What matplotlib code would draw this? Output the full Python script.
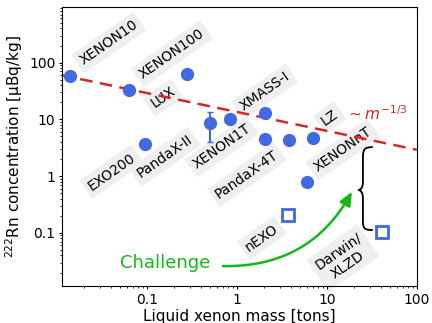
import numpy as np
import matplotlib
matplotlib.use("Agg")
import matplotlib.pyplot as plt
from matplotlib.path import Path
from matplotlib.patches import PathPatch
from matplotlib.ticker import FuncFormatter

# measured experiments (filled circles)
exp_names = ["XENON10", "XENON100", "LUX", "EXO200", "PandaX-II", "XMASS-I",
             "XENON1T", "PandaX-4T", "LZ-a", "LZ", "XENONnT"]
exp_mass = [0.014, 0.063, 0.28, 0.096, 0.5, 0.84, 2.05, 2.05, 3.8, 7.0, 6.0]
exp_rn = [59, 33, 64, 3.7, 8.7, 10.0, 13.1, 4.6, 4.4, 4.75, 0.80]
exp_err_lo = [0, 0, 0, 0, 4.7, 0, 0, 0, 0, 0, 0]
exp_err_hi = [0, 0, 0, 0, 5.0, 0, 0, 0, 0, 0, 0]

# future experiments (open squares)
fut_names = ["nEXO", "Darwin/XLZD"]
fut_mass = [3.7, 41]
fut_rn = [0.21, 0.105]

# scaling line  ~ m^-1/3
line_mass = [0.011, 100]
line_norm = 13.5
line_exp = -1.0 / 3.0

# label texts and positions (data coords)
label_texts = ["XENON10", "XENON100", "LUX", "EXO200", "PandaX-II", "XENON1T",
               "XMASS-I", "LZ", "PandaX-4T", "XENONnT", "nEXO", "Darwin/\nXLZD"]
label_x = [0.0378, 0.19, 0.151, 0.0408, 0.158, 0.68, 2.05, 10.8, 1.29, 15.1, 1.9, 15.1]
label_y = [225, 144, 24.2, 1.2, 2.2, 3.3, 30.8, 10.7, 1.06, 2.93, 0.082, 0.036]

blue = "#4169e1"
red = "#d62728"
green = "#14b814"

fig = plt.figure(figsize=(4.32, 3.23), dpi=100)
ax = fig.add_axes([0.1435, 0.1146, 0.8215, 0.8634])
ax.set_xscale("log")
ax.set_yscale("log")

lm = np.array(line_mass)
ax.plot(lm, line_norm * lm ** line_exp, ls=(0, (5, 3)), color=red, lw=1.8, zorder=2)

ax.errorbar(exp_mass, exp_rn, yerr=[exp_err_lo, exp_err_hi], fmt="o", ms=8.5,
            color=blue, ecolor=blue, elinewidth=1.5, capsize=2.5, zorder=3)
ax.plot(fut_mass, fut_rn, "s", ms=8, mfc="white", mec=blue, mew=2, zorder=3)

for t, x, y in zip(label_texts, label_x, label_y):
    ax.text(x, y, t, rotation=35, ha="center", va="center", fontsize=10,
            rotation_mode="anchor", multialignment="center",
            bbox=dict(boxstyle="square,pad=0.3", fc="#efefef", ec="none"), zorder=1)

ax.text(16.3, 12.6, r"$\sim m^{-1/3}$", color=red, fontsize=11, ha="left", va="center")
ax.text(0.158, 0.0297, "Challenge", color=green, fontsize=13, ha="center", va="center")

ax.annotate("", xy=(19, 0.53), xytext=(0.70, 0.026),
            arrowprops=dict(arrowstyle="-|>,head_length=0.8,head_width=0.35", color=green,
                            lw=1.8, connectionstyle="arc3,rad=0.3", shrinkA=0, shrinkB=0))

# curly brace "{" in axes fraction
verts = [(0.876, 0.498), (0.852, 0.498), (0.848, 0.49), (0.848, 0.46),
         (0.848, 0.375),
         (0.848, 0.352), (0.842, 0.344), (0.834, 0.344),
         (0.842, 0.344), (0.848, 0.336), (0.848, 0.313),
         (0.848, 0.235),
         (0.848, 0.205), (0.852, 0.2007), (0.876, 0.2007)]
codes = [Path.MOVETO, Path.CURVE4, Path.CURVE4, Path.CURVE4, Path.LINETO,
         Path.CURVE4, Path.CURVE4, Path.CURVE4, Path.CURVE4, Path.CURVE4, Path.CURVE4,
         Path.LINETO, Path.CURVE4, Path.CURVE4, Path.CURVE4]
ax.add_patch(PathPatch(Path(verts, codes), transform=ax.transAxes, fc="none", ec="black", lw=1.3))

ax.set_xlim(0.0114, 100)
ax.set_ylim(0.0116, 950)
fmt = FuncFormatter(lambda v, p: "%g" % v)
ax.xaxis.set_major_formatter(fmt)
ax.yaxis.set_major_formatter(fmt)
ax.tick_params(which="major", labelsize=10, length=2.2, pad=2.5)
ax.tick_params(which="minor", length=1.3)
ax.set_xlabel("Liquid xenon mass [tons]", fontsize=11, labelpad=2)
ax.set_ylabel(r"$^{222}$Rn concentration [μBq/kg]", fontsize=11, labelpad=3)

fig.savefig("out.png", dpi=100)
